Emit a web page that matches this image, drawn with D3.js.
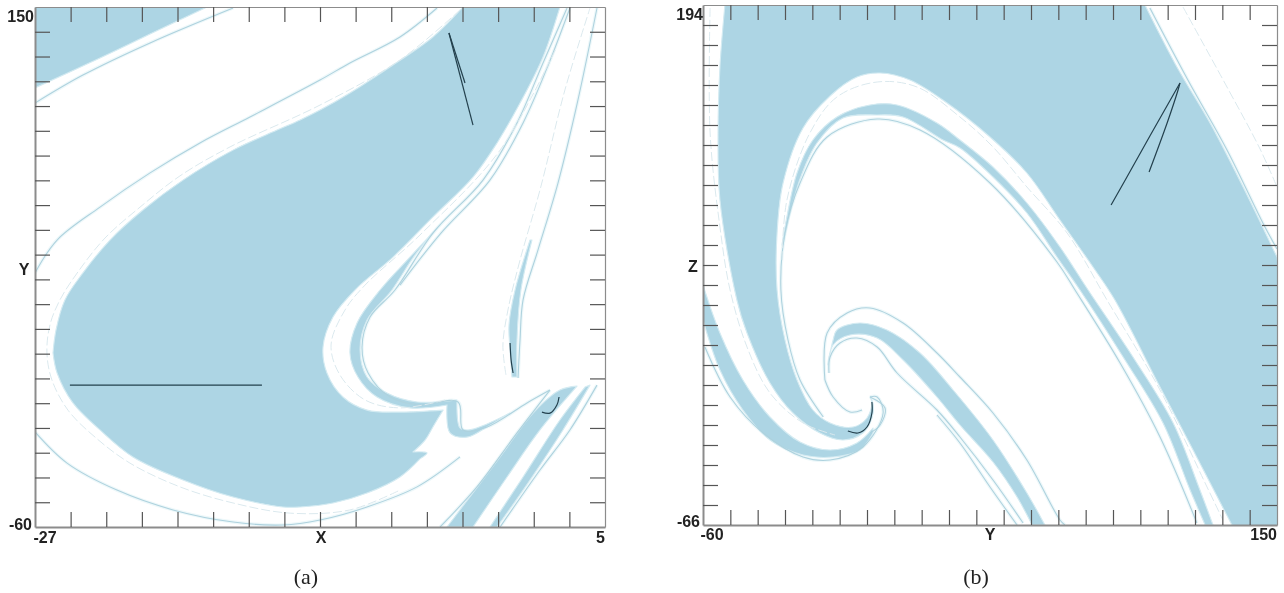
<!DOCTYPE html>
<html><head><meta charset="utf-8">
<script src="https://cdn.jsdelivr.net/npm/d3@7"></script>
<style>
html,body{margin:0;padding:0;background:#fff}
svg{display:block;filter:blur(0.45px)}
text.t{font-family:"Liberation Sans",Arial,sans-serif;font-weight:700;font-size:16px;fill:#222}
text.cap{font-family:"Liberation Serif","DejaVu Serif",serif;font-size:22px;fill:#222}
</style></head><body>
<script>
// ---------- tick labels ----------
const aXTicks=[-25,-23,-21,-19,-17,-15,-13,-11,-9,-7,-5,-3,-1,1,3];
const aYTicks=[140,130,120,110,100,90,80,70,60,50,40,30,20,10,0,-10,-20,-30,-40,-50];
const bXTicks=[-50,-40,-30,-20,-10,0,10,20,30,40,50,60,70,80,90,100,110,120,130,140];
const bYTicks=[184,174,164,154,144,134,124,114,104,94,84,74,64,54,44,34,24,14,4,-6,-16,-26,-36,-46,-56];

// ---------- panel (a): basin regions in (X,Y) ----------
const aBlobUpper=[[-25.99,10.3],[-25.82,19.6],[-25.32,31.7],[-24.31,42.6],[-22.79,55.9],[-20.94,68],[-18.69,80.1],[-15.88,92.2],[-13.41,100.3],[-12.12,104.4],[-11,108.4],[-9.32,115.3],[-7.07,125.8],[-4.66,137.9],[-2.97,150]];
const aBlobRight=[[2.47,150],[1.52,129.8],[0.23,111.2],[-1.06,95.1],[-2.41,81.3],[-4.66,65.2],[-6.9,49],[-9.04,35.7],[-10.27,24.8],[-10.83,12.7],[-10.61,2.2],[-9.71,-7.5],[-8.36,-12.8],[-6.51,-13.6],[-4.09,-12.8]];
const aBlobNotch=[[-4.09,-12.8],[-4.66,-19.6],[-5.1,-24.9],[-5.78,-29.7]];
const aBlobNotch2=[[-5.78,-29.7],[-4.99,-30.1],[-5.39,-32.5]];
const aBlobLower=[[-5.39,-32.5],[-6.51,-39.8],[-8.36,-46.3],[-10.27,-50.3],[-12.12,-51.9],[-13.08,-51.9],[-15.88,-47.9],[-18.69,-41],[-21.5,-31.7],[-23.35,-20.8],[-24.87,-9.9],[-25.76,2.2],[-25.99,10.3]];
const aCornerFrame=[[-27,117.3],[-27,150],[-17.34,150]];
const aCornerEdge=[[-17.34,150],[-20.54,139.1],[-23.35,129.4],[-27,117.3]];
const aWaveLeft=[[-4.26,62],[-5.95,49],[-7.63,35.7],[-8.92,22.4],[-9.32,10.3],[-8.87,0.6],[-7.8,-7.5],[-5.95,-11.9],[-3.87,-10.7]];
const aWaveDip=[[-3.87,-10.7],[-3.7,-22],[-2.75,-23.7],[-1.62,-19.6],[-0.33,-14]];
const aWaveDipBack=[[-0.33,-14],[-1.62,-18.4],[-2.69,-20.8],[-3.14,-20],[-3.31,-8.7]];
const aWaveInner=[[-3.31,-8.7],[-5.55,-9.5],[-7.24,-5.9],[-8.36,0.6],[-8.75,11.5],[-8.36,23.6],[-6.96,35.7],[-5.67,49.8],[-4.26,62]];
const aSpikeLeftEdge=[[0.79,55.9],[-0.05,35.7],[-0.39,21.6],[-0.33,11.5],[-0.22,0.6]];
const aSpikeRightEdge=[[0.06,0.6],[0.06,15.5],[0.28,35.7],[0.9,55.9]];
const aWedgeLeft=[[-3.87,-60],[-0.89,-31.7],[0.96,-14],[2.47,-4.7],[3.43,-3.1]];
const aWedgeRight=[[3.43,-3.1],[1.35,-20.8],[-0.5,-39.8],[-2.41,-60]];
const aStripLeft=[[-1.46,-60],[0.4,-39.8],[2.47,-16.8],[3.88,-3.5]];
const aStripRight=[[4.16,-2.7],[2.64,-20.8],[0.79,-41],[-1.06,-60]];

// ---------- panel (a): thin boundary curves ----------
const aCornerLine=[[-27,111.2],[-24.31,122.5],[-20.54,135.5],[-15.88,149.6]];
const aArcLower=[[-27,-21.6],[-25.2,-34.2],[-22.4,-45.1],[-19.25,-53.1],[-15.88,-58],[-13.08,-59.2],[-11,-57.2],[-8.36,-51.9],[-5.55,-43.8],[-3.14,-31.7]];
const aArcUpper=[[-27,42.6],[-25.76,55.9],[-23.35,69.2],[-20.54,83],[-17.74,95.1],[-14.93,105.6],[-11,120.5],[-9.32,127.4],[-6.51,137.9],[-4.43,149.6]];
const aBlobHalo=[[-3.14,148.8],[-6.51,128.6],[-11,110.4],[-16.05,93.5],[-18.86,81.8],[-21.1,69.2],[-23.07,56.7],[-24.59,43],[-25.6,31.7],[-26.16,21.6],[-26.33,10.3],[-26.05,-0.6],[-25.15,-12.8],[-23.63,-23.7],[-21.67,-34.2],[-18.86,-43.8],[-15.88,-50.3],[-12.68,-54.4],[-9.32,-53.1],[-6.51,-45.1]];
const aWaveLine=[[2.87,149.6],[1.52,127.4],[0.06,103.2],[-1.85,80.1],[-4.66,58.7],[-6.79,35.7],[-8.19,24.8],[-8.64,12.7],[-8.3,2.2],[-7.07,-7.5],[-5.39,-10.7],[-3.25,-9.5],[-2.97,-20.8],[-1.62,-19.6],[0.62,-9.9],[1.91,-4.7]];
const aWaveLine2=[[3.03,149.6],[1.86,127.4],[0.4,103.2],[-1.46,80.1],[-4.21,58.7],[-6.51,37.7]];
const aWavePale=[[2.2,132.6],[-0.89,92.2],[-5.39,57.9],[-8.47,37.7],[-9.6,27.6],[-10.38,13.5],[-9.88,1.4],[-8.47,-8.7],[-6.51,-11.9],[-3.98,-8.7]];
const aSpikeRight=[[0.12,0.2],[0.23,15.5],[0.4,31.7],[1.24,51.9],[2.36,78.9],[3.48,112.4],[4.55,149.6]];
const aSpikeLeft=[[-0.56,1.4],[-0.73,13.5],[-0.45,27.6],[0.23,47.8],[1.35,76.1],[2.75,116.5],[4.16,149.6]];
const aWedgeLineL=[[-4.26,-60],[-2.19,-43.8],[0.06,-22],[1.91,-4.7]];
const aWedgeLineR=[[-0.89,-60],[1.35,-37],[3.03,-20.8],[4.55,-2.7]];

// ---------- panel (a): trajectories ----------
const aTraj1=[[-25.04,-2.7],[-14.26,-2.7]];
const aTraj2=[[-2.86,119.3],[-3.76,139.5]];
const aTraj2b=[[-3.76,139.5],[-2.41,102.3]];
const aTraj3=[[-0.33,14.3],[-0.27,7.4],[-0.16,2.2]];
const aTraj4=[[1.46,-13.6],[1.91,-14],[2.3,-10.7],[2.42,-7.5]];

// ---------- panel (b): basin regions in (Y,Z) ----------
const bBlobLeft=[[-52,194],[-53.8,163],[-54.5,130],[-53.8,96.5],[-47.6,46.5],[-43.9,30],[-35.5,5],[-27.1,-10],[-17.2,-20],[-8.8,-23.5],[-1.5,-20],[1.8,-12.5],[2.2,-5],[1.1,-2]];
const bBlobInner=[[1.1,-2],[1.8,-5],[0,-12.5],[-5.1,-17],[-13.5,-15],[-19.8,-8.5],[-25.6,6.5],[-30,26.5],[-32.9,51.5],[-32.9,80],[-30.7,105],[-23.4,132.5],[-13.5,148.5],[-3.7,158],[4.8,160],[15.7,156.5],[29.3,145],[45,128],[58.5,110],[70.6,86.5],[82.7,63],[90.7,46.5],[107.2,3],[119.3,-28.5],[133.5,-66]];
const bBlobCorner=[[133.5,-66],[150,-66],[150,68]];
const bBlobRight=[[150,68],[137.6,103],[125.5,135],[113.4,163],[101.7,194]];
const bLowerTop=[[-60,54],[-53.8,30],[-45.4,6.5],[-35.5,-12],[-24.5,-24.5],[-13.5,-28.5],[-3.7,-25],[2.2,-17.5]];
const bLowerBottom=[[2.2,-20],[-2.6,-28.5],[-12.4,-32],[-23.4,-31],[-35.5,-23.5],[-45.4,-8.5],[-53.8,11.5],[-60,36.5]];
const bRibbonOuter=[[-31.1,74],[-30,83],[-25.6,110],[-19.8,126.5],[-11,138],[1.1,144],[11,144],[25.6,135],[34,126.5],[46.1,113],[58.5,95],[70.6,73],[80.9,51.5],[97.3,18],[112,-15],[121.8,-48.5],[126.6,-66]];
const bRibbonInner=[[123.7,-66],[118.2,-48.5],[108.3,-15],[93.7,18],[77.9,51.5],[69.5,68],[58.5,90],[46.1,108],[34,122.5],[27.8,126.5],[13.2,138],[3.7,139],[-8.8,137.5],[-18.3,125],[-24.5,107],[-29.3,83],[-30.7,74]];
const bSwirlTop=[[-14.3,14],[-12.4,26.5],[-11,31.5],[-2.6,35],[7.3,31.5],[19.4,20],[31.5,1.5],[46.1,-23.5],[58.5,-50],[65.1,-66]];
const bSwirlBottom=[[60.4,-66],[54.9,-52],[46.1,-34.5],[34,-16],[25.6,-2],[13.2,16.5],[3.7,27.5],[-6.2,29],[-12.4,24],[-14.3,14]];

// ---------- panel (b): thin boundary curves ----------
const bInnerLine=[[-16,-12],[-24.5,6.5],[-28.9,26.5],[-31.5,51.5],[-30,80],[-24.5,105],[-14.6,128],[3.7,137],[19.4,131.5],[45,105],[69.5,65.5],[76.1,51.5],[92.6,15],[107.2,-22],[120.7,-65]];
const bPaleArc=[[-31.1,66.5],[-29.3,96.5],[-20.9,130],[-11,148],[3.7,155.5],[18.3,153],[34,138],[46.1,123],[58.5,103],[73.2,80],[87.8,46.5],[107.2,1.5],[124.4,-47],[130.2,-63.5]];
const bRightLine1=[[103.5,192.5],[117.4,156.5],[131.7,121.5],[145.2,84],[150,72]];
const bRightLine2=[[115.6,193],[131.7,153],[143.8,122],[150,103]];
const bLeftPale=[[-57.4,192.5],[-57.4,130],[-53.8,83],[-50.1,51.5],[-43.9,23],[-35.5,0],[-23.4,-15],[-11.7,-21]];
const bLowerOuter=[[-59.3,23],[-50.1,-2],[-38,-20],[-23.4,-32],[-13.5,-33.5],[-1.5,-27],[5.9,-10],[3.7,-2],[1.1,-2]];
const bSwirlInner=[[-13.9,10],[-13.5,18],[-9.9,25],[-3.7,27.5],[3.7,23],[11,10],[25.6,-8.5],[34,-22],[46.1,-43.5],[57.1,-65]];
const bSwirlInner2=[[25.6,-11],[34,-25],[45,-47],[54.9,-66]];
const bSwirlOuter=[[-15.4,6.5],[-14.6,30],[-7.3,40],[1.1,42.5],[13.2,35],[25.6,20],[34,8],[46.1,-10],[58.5,-33.5],[70.6,-63.5],[72.4,-66]];
const bSwirlTail=[[-15.4,6.5],[-12.4,-2],[-6.2,-9.5],[-1.8,-8.5]];
const bHook=[[1.1,-2],[6.6,-7.5],[4.8,-16],[1.1,-20]];

// ---------- panel (b): trajectories ----------
const bTraj1=[[89.3,94],[95.1,108],[103.5,128.5],[114.5,155]];
const bTraj1b=[[114.5,155],[113.8,151.5],[109.8,135],[103.2,110.5]];
const bTraj2=[[-7,-19],[-3.3,-20],[0,-17],[1.8,-10],[1.8,-4.5]];

// ---------- drawing ----------
const BLUE="#add5e4";
const svg=d3.select("body").append("svg").attr("width",1284).attr("height",593);

function panel(id,xDom,yDom,box,tx,ty,regions,lines,pale,traj){
  const x=d3.scaleLinear().domain(xDom).range([box.l,box.r]);
  const y=d3.scaleLinear().domain(yDom).range([box.b,box.t]);
  const defs=svg.append("defs").append("clipPath").attr("id",id);
  defs.append("rect").attr("x",box.l).attr("y",box.t).attr("width",box.r-box.l).attr("height",box.b-box.t);
  const g=svg.append("g").attr("clip-path",`url(#${id})`);
  const curve=d3.line().x(d=>x(d[0])).y(d=>y(d[1])).curve(d3.curveCatmullRom.alpha(0.5));
  const poly=segs=>segs.map((s,i)=>{const d=curve(s);return i?"L"+d.slice(1):d;}).join("")+"Z";
  g.selectAll(".halo").data(lines).enter().append("path").attr("d",curve)
    .attr("fill","none").attr("stroke","#eef8fa").attr("stroke-width",3.5);
  g.selectAll(".region").data(regions).enter().append("path").attr("d",poly)
    .attr("fill",BLUE).attr("stroke","#d4ebf2").attr("stroke-width",1.1).attr("stroke-linejoin","round");
  g.selectAll(".thin").data(lines).enter().append("path").attr("d",curve)
    .attr("fill","none").attr("stroke","#aed2de").attr("stroke-width",1.1);
  g.selectAll(".pale").data(pale).enter().append("path").attr("d",curve)
    .attr("fill","none").attr("stroke","#dbe9ee").attr("stroke-width",1).attr("stroke-dasharray","9 3");
  g.selectAll(".traj").data(traj).enter().append("path").attr("d",curve)
    .attr("fill","none").attr("stroke","#23404d").attr("stroke-width",1.2);

  const L=box.tick;
  const blank=()=>"";
  const ax=[
    [d3.axisTop(x).tickValues(tx).tickSize(-L),`translate(0,${box.t})`],
    [d3.axisBottom(x).tickValues(tx).tickSize(-L),`translate(0,${box.b})`],
    [d3.axisLeft(y).tickValues(ty).tickSize(-L),`translate(${box.l},0)`],
    [d3.axisRight(y).tickValues(ty).tickSize(-L),`translate(${box.r},0)`]
  ];
  ax.forEach(([a,t],i)=>{
    const gg=svg.append("g").attr("transform",t).call(a.tickFormat(blank).tickSizeOuter(0));
    gg.selectAll(".tick line").attr("stroke","#555").attr("stroke-width",1.2);
    gg.select(".domain").attr("stroke","#8c8c8c").attr("stroke-width",i===2||i===1?2:1.2);
  });
}

panel("pa",[-27,5],[-60,150],{l:35,r:605,t:7,b:527,tick:15},aXTicks,aYTicks,
  [[aBlobUpper,aBlobRight,aBlobNotch,aBlobNotch2,aBlobLower],
   [aCornerFrame,aCornerEdge],
   [aWaveLeft,aWaveDip,aWaveDipBack,aWaveInner],
   [aSpikeLeftEdge,aSpikeRightEdge],
   [aWedgeLeft,aWedgeRight],
   [aStripLeft,aStripRight]],
  [aCornerLine,aArcLower,aArcUpper,aWaveLine,aWaveLine2,aSpikeRight,aWedgeLineL,aWedgeLineR],
  [aBlobHalo,aWavePale,aSpikeLeft],
  [aTraj1,aTraj2,aTraj2b,aTraj3,aTraj4]);

panel("pb",[-60,150],[-66,194],{l:703,r:1277,t:5,b:525,tick:15},bXTicks,bYTicks,
  [[bBlobLeft,bBlobInner,bBlobCorner,bBlobRight],
   [bLowerTop,bLowerBottom],
   [bRibbonOuter,bRibbonInner],
   [bSwirlTop,bSwirlBottom]],
  [bInnerLine,bRightLine1,bLowerOuter,bSwirlInner,bSwirlInner2,bSwirlOuter,bSwirlTail,bHook],
  [bPaleArc,bRightLine2,bLeftPale],
  [bTraj1,bTraj1b,bTraj2]);

// ---------- text ----------
const labels=[
 ["150",34,22,"end"],["Y",24,275,"middle"],["-60",32,530,"end"],["-27",45,543,"middle"],["X",321,543,"middle"],["5",605,543,"end"],
 ["194",703,20,"end"],["Z",693,272,"middle"],["-66",700,527,"end"],["-60",712,540,"middle"],["Y",990,540,"middle"],["150",1277,540,"end"]
];
svg.selectAll(".t").data(labels).enter().append("text").attr("class","t")
  .attr("x",d=>d[1]).attr("y",d=>d[2]).attr("text-anchor",d=>d[3]).text(d=>d[0]);
const captions=[["(a)",306,584],["(b)",976,584]];
svg.selectAll(".cap").data(captions).enter().append("text").attr("class","cap")
  .attr("x",d=>d[1]).attr("y",d=>d[2]).attr("text-anchor","middle").text(d=>d[0]);
</script>
</body></html>
